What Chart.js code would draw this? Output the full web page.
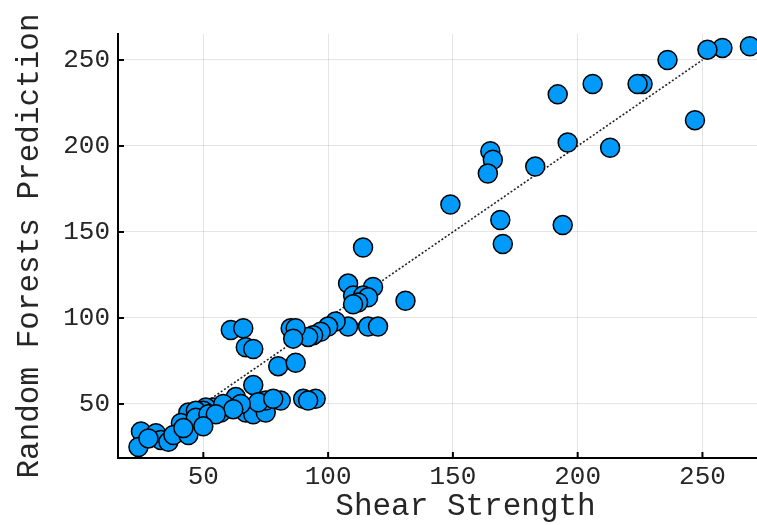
<!DOCTYPE html>
<html>
<head>
<meta charset="utf-8">
<script src="https://cdn.jsdelivr.net/npm/chart.js@4"></script>
<style>
  html, body { margin: 0; padding: 0; background: #fff; overflow: hidden; }
  #wrap { width: 824px; height: 525px; }
</style>
</head>
<body>
<div id="wrap"><canvas id="chart" width="824" height="525"></canvas></div>
<script>
// observed shear strength vs. random forests prediction
const shear = [269, 258, 252, 236, 247, 226, 224, 206, 192, 196, 213, 183, 165, 166, 164, 149, 169, 170, 194,
  114, 131, 108, 118, 110, 114, 116, 112, 116, 120, 108, 103, 100, 97, 94, 92, 85, 87, 86,
  61, 66, 67, 70, 80, 87, 70, 63, 54, 51, 44, 41, 50, 67, 70, 75, 75, 81, 90, 95, 60, 57,
  25, 24, 31, 33, 36, 38, 44, 47, 58, 72, 78, 65, 47, 52, 62, 92, 28, 42, 55, 110, 50];
const predicted = [258, 257, 256, 250, 215, 236, 236, 236, 230, 202, 199, 188, 197, 192, 184, 166, 157, 143, 154,
  141, 110, 120, 118, 113, 113, 112, 109, 95, 95, 95, 98, 95, 92, 90, 89, 94, 94, 88,
  93, 94, 83, 82, 72, 74, 61, 54, 48, 48, 45, 39, 46, 45, 44, 45, 52, 52, 53, 53, 48, 45,
  34, 25, 33, 29, 28, 32, 32, 46, 50, 51, 53, 50, 42, 44, 47, 52, 30, 36, 44, 108, 37];
const refLine = [24, 250];
const xTicks = [50, 100, 150, 200, 250];
const yTicks = [50, 100, 150, 200, 250];

const fontFamily = "'Liberation Mono', 'DejaVu Sans Mono', monospace";
const textColor = "#262626";

const points = shear.map((x, i) => ({ x: x, y: predicted[i] }));
const linePts = refLine.map(v => ({ x: v, y: v }));

// ticks in Plots.jl style point inward from the axis
const innerTicks = {
  id: "innerTicks",
  afterDraw(chart) {
    const ctx = chart.ctx;
    const area = chart.chartArea;
    const xs = chart.scales.x, ys = chart.scales.y;
    ctx.save();
    ctx.strokeStyle = "#000";
    ctx.lineWidth = 2;
    ctx.beginPath();
    xTicks.forEach(v => {
      const px = xs.getPixelForValue(v);
      ctx.moveTo(px, area.bottom);
      ctx.lineTo(px, area.bottom - 6);
    });
    yTicks.forEach(v => {
      const py = ys.getPixelForValue(v);
      ctx.moveTo(area.left, py);
      ctx.lineTo(area.left + 6, py);
    });
    ctx.stroke();
    ctx.restore();
  }
};

new Chart(document.getElementById("chart"), {
  type: "scatter",
  data: {
    datasets: [
      {
        data: points,
        backgroundColor: "#009AFA",
        borderColor: "#000",
        borderWidth: 1.5,
        pointRadius: 9.5,
        clip: false
      },
      {
        type: "line",
        data: linePts,
        borderColor: "#222",
        borderWidth: 1.6,
        borderDash: [2, 2],
        pointRadius: 0,
        fill: false
      }
    ]
  },
  options: {
    responsive: false,
    animation: false,
    layout: { padding: { top: 34, right: 0, left: 0, bottom: 0 } },
    plugins: { legend: { display: false }, tooltip: { enabled: false } },
    scales: {
      x: {
        type: "linear",
        min: 15.8,
        max: 294.3,
        afterFit: s => { s.height = 67; },
        afterBuildTicks: s => { s.ticks = xTicks.map(v => ({ value: v })); },
        grid: { color: "rgba(0,0,0,0.1)", lineWidth: 1, drawTicks: false },
        border: { display: true, color: "#000", width: 2 },
        ticks: { color: textColor, font: { family: fontFamily, size: 26 }, padding: 4 },
        title: {
          display: true,
          text: "Shear Strength",
          color: textColor,
          font: { family: fontFamily, size: 31 },
          padding: { top: 0, bottom: 0 }
        }
      },
      y: {
        type: "linear",
        min: 18.6,
        max: 265.1,
        afterFit: s => { s.width = 118; },
        afterBuildTicks: s => { s.ticks = yTicks.map(v => ({ value: v })); },
        grid: { color: "rgba(0,0,0,0.1)", lineWidth: 1, drawTicks: false },
        border: { display: true, color: "#000", width: 2 },
        ticks: { color: textColor, font: { family: fontFamily, size: 26 }, padding: 8 },
        title: {
          display: true,
          text: "Random Forests Prediction",
          color: textColor,
          font: { family: fontFamily, size: 31 },
          padding: { top: 11, bottom: 0 }
        }
      }
    }
  },
  plugins: [innerTicks]
});
</script>
</body>
</html>
